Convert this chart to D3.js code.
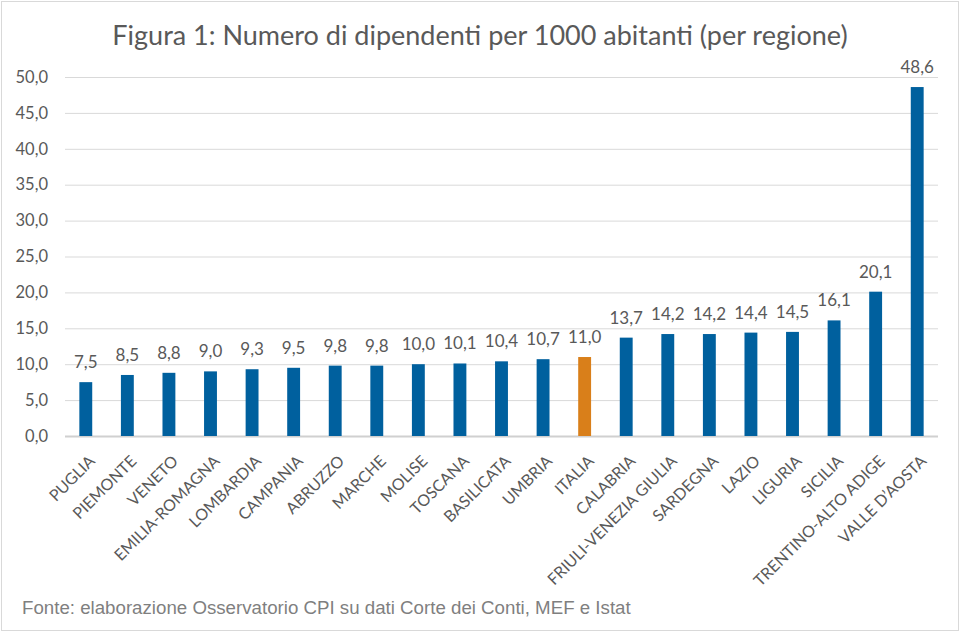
<!DOCTYPE html>
<html>
<head>
<meta charset="utf-8">
<script src="https://cdn.jsdelivr.net/npm/d3@7/dist/d3.min.js"></script>
<style>
  html, body { margin: 0; padding: 0; background: #fff; }
  svg { display: block; }
</style>
</head>
<body>
<svg id="chart" width="962" height="633"></svg>
<script>
const regions = ["PUGLIA","PIEMONTE","VENETO","EMILIA-ROMAGNA","LOMBARDIA","CAMPANIA","ABRUZZO","MARCHE","MOLISE","TOSCANA","BASILICATA","UMBRIA","ITALIA","CALABRIA","FRIULI-VENEZIA GIULIA","SARDEGNA","LAZIO","LIGURIA","SICILIA","TRENTINO-ALTO ADIGE","VALLE D\u2019AOSTA"];
const values = [7.5, 8.5, 8.8, 9.0, 9.3, 9.5, 9.8, 9.8, 10.0, 10.1, 10.4, 10.7, 11.0, 13.7, 14.2, 14.2, 14.4, 14.5, 16.1, 20.1, 48.6];
const yTicks = [0, 5, 10, 15, 20, 25, 30, 35, 40, 45, 50];
const highlight = "ITALIA";
const titleText = "Figura 1: Numero di dipendenti per 1000 abitanti (per regione)";
const sourceText = "Fonte: elaborazione Osservatorio CPI su dati Corte dei Conti, MEF e Istat";

(function () {
const data = regions.map((r, i) => ({ region: r, value: values[i] }));
const fmt = v => d3.format(".1f")(v).replace(".", ",");

const svg = d3.select("#chart");
const W = 962, H = 633;
const pLeft = 65, pRight = 938, pTop = 77, pBottom = 436;
const textColor = "#595959";
const font = "Lato, 'Open Sans', sans-serif";

svg.append("rect").attr("x", 1.5).attr("y", 1.5).attr("width", W - 5).attr("height", H - 4)
  .attr("fill", "#fff").attr("stroke", "#d9d9d9").attr("stroke-width", 1);

const x = d3.scaleBand().domain(regions).range([pLeft, pRight]).paddingInner(0.69).paddingOuter(0.345);
const y = d3.scaleLinear().domain([0, 50]).range([pBottom, pTop]);

const yAxis = d3.axisLeft(y).tickValues(yTicks).tickFormat(fmt).tickSize(-(pRight - pLeft)).tickPadding(17);
const gy = svg.append("g").attr("transform", `translate(${pLeft},0)`).call(yAxis);
gy.select(".domain").remove();
gy.selectAll(".tick line").attr("stroke", "#d9d9d9").attr("stroke-width", 1);
gy.selectAll(".tick text").attr("fill", textColor).style("font-family", font).style("font-size", "16.5px");
gy.selectAll(".tick").filter(d => d === 0).select("line").attr("stroke", "#d0d0d0").attr("stroke-width", 2);

svg.append("g").selectAll("rect").data(data).join("rect")
  .attr("x", d => x(d.region))
  .attr("width", x.bandwidth())
  .attr("y", d => y(d.value))
  .attr("height", d => y(0) - y(d.value))
  .attr("fill", d => d.region === highlight ? "#d97f1a" : "#00609e");

svg.append("g").selectAll("text").data(data).join("text")
  .attr("x", d => x(d.region) + x.bandwidth() / 2)
  .attr("y", d => y(d.value) - 14)
  .attr("text-anchor", "middle")
  .attr("fill", textColor)
  .style("font-family", font).style("font-size", "17px")
  .text(d => fmt(d.value));

const xAxis = d3.axisBottom(x).tickSize(0).tickPadding(0);
const gx = svg.append("g").attr("transform", `translate(0,${pBottom})`).call(xAxis);
gx.select(".domain").remove();
gx.selectAll(".tick text")
  .attr("fill", textColor)
  .style("font-family", font).style("font-size", "16px")
  .attr("text-anchor", "end")
  .attr("y", 0).attr("dy", "0.72em")
  .attr("transform", "translate(2,18) rotate(-45)");

svg.append("text").attr("x", 480).attr("y", 45).attr("text-anchor", "middle")
  .attr("fill", textColor).style("font-family", font).style("font-size", "27px")
  .text(titleText);

svg.append("text").attr("x", 22).attr("y", 614)
  .attr("fill", "#7f7f7f").style("font-family", "'Liberation Sans', Arial, sans-serif").style("font-size", "18.7px")
  .text(sourceText);
})();
</script>
</body>
</html>
